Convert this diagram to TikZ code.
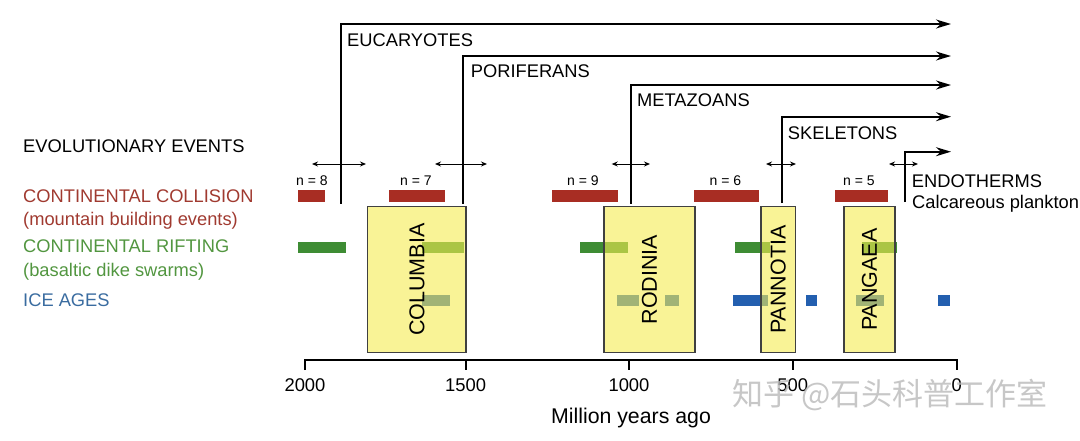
\documentclass[tikz,border=0pt]{standalone}
\usepackage{fontspec}
\setmainfont{Liberation Sans}
\newfontfamily\cjk{Noto Sans CJK SC}
\usetikzlibrary{arrows.meta}

\definecolor{collred}{RGB}{168,45,35}
\definecolor{riftgreen}{RGB}{62,140,52}
\definecolor{iceblue}{RGB}{35,95,175}
\definecolor{supyellow}{RGB}{245,235,80}
\definecolor{colltext}{RGB}{160,58,48}
\definecolor{rifttext}{RGB}{82,150,64}
\definecolor{icetext}{RGB}{58,108,160}

\begin{document}
\begin{tikzpicture}[x=1pt,y=-1pt,
  evo/.style={line width=1.8pt,-{Stealth[length=15pt,width=9pt]}},
  rangearrow/.style={line width=1pt,{Stealth[length=6pt,width=5pt]}-{Stealth[length=6pt,width=5pt]}},
  lbl/.style={inner sep=0,anchor=base west,font=\fontsize{18.3}{20}\selectfont},
  nlbl/.style={inner sep=0,anchor=base,font=\fontsize{14}{16}\selectfont},
  axlbl/.style={inner sep=0,anchor=base,font=\fontsize{18.4}{20}\selectfont},
  supbox/.style={draw=black!75,line width=1.2pt,fill=supyellow,fill opacity=0.6},
  suplbl/.style={rotate=90,inner sep=0,font=\fontsize{21.5}{24}\selectfont}]
  \useasboundingbox (0,0) rectangle (1080,440);

  %legend
  \node[lbl] (evol) at (23,152.7) {EVOLUTIONARY EVENTS};
  \node[lbl,text=colltext] (coll) at (23,202.7) {CONTINENTAL COLLISION};
  \node[lbl,text=colltext] (collsub) at (23,225.5) {(mountain building events)};
  \node[lbl,text=rifttext] (rift) at (23,252.7) {CONTINENTAL RIFTING};
  \node[lbl,text=rifttext] (riftsub) at (23,276) {(basaltic dike swarms)};
  \node[lbl,text=icetext] (ice) at (23,306) {ICE AGES};

  %collisions
  \fill[collred] (297.7,190) rectangle (325,202);
  \fill[collred] (389,190) rectangle (445,202);
  \fill[collred] (551.7,190) rectangle (617.7,202);
  \fill[collred] (694.3,190) rectangle (759,202);
  \fill[collred] (835,190) rectangle (887.7,202);
  \node[nlbl] (n8) at (312,185.5) {n = 8};
  \node[nlbl] (n7) at (416,185.5) {n = 7};
  \node[nlbl] (n9) at (583,185.5) {n = 9};
  \node[nlbl] (n6) at (725.5,185.5) {n = 6};
  \node[nlbl] (n5) at (859,185.5) {n = 5};

  %rifting
  \fill[riftgreen] (297.7,242) rectangle (346,253);
  \fill[riftgreen] (421.7,242) rectangle (464,253);
  \fill[riftgreen] (580,242) rectangle (628.3,253);
  \fill[riftgreen] (735,242) rectangle (770,253);
  \fill[riftgreen] (861.7,242) rectangle (896.7,253);

  %ice ages
  \fill[iceblue] (421.7,295) rectangle (450,306);
  \fill[iceblue] (617,295) rectangle (639,306);
  \fill[iceblue] (665,295) rectangle (679,306);
  \fill[iceblue] (733.3,295) rectangle (768.3,306);
  \fill[iceblue] (806,295) rectangle (816.7,306);
  \fill[iceblue] (856,295) rectangle (884,306);
  \fill[iceblue] (938.3,295) rectangle (950,306);

  %supercontinents
  \draw[supbox] (367.7,206.7) rectangle (466,352.7);
  \draw[supbox] (604,206.7) rectangle (695,352.7);
  \draw[supbox] (761,206.7) rectangle (795.7,352.7);
  \draw[supbox] (844,206.7) rectangle (895,352.7);
  \node[suplbl] (columbia) at (416.9,279.7) {COLUMBIA};
  \node[suplbl] (rodinia) at (649.5,279.7) {RODINIA};
  \node[suplbl] (pannotia) at (778.3,279.7) {PANNOTIA};
  \node[suplbl] (pangaea) at (869.5,279.7) {PANGAEA};

  %evolution
  \coordinate (eucbase) at (340.7,203.5);
  \coordinate (euctip) at (951,24);
  \coordinate (porbase) at (462.7,203.5);
  \coordinate (portip) at (951,56);
  \coordinate (metbase) at (630.7,203.5);
  \coordinate (mettip) at (951,85);
  \coordinate (skelbase) at (781.7,203);
  \coordinate (skeltip) at (951,116.7);
  \coordinate (endobase) at (905,202);
  \coordinate (endotip) at (951,151.7);
  \draw[evo] (eucbase) |- (euctip);
  \draw[evo] (porbase) |- (portip);
  \draw[evo] (metbase) |- (mettip);
  \draw[evo] (skelbase) |- (skeltip);
  \draw[evo] (endobase) |- (endotip);
  \node[lbl] (euc) at (347,46.7) {EUCARYOTES};
  \node[lbl] (por) at (470.7,77.3) {PORIFERANS};
  \node[lbl] (met) at (637,106.7) {METAZOANS};
  \node[lbl] (skel) at (787.7,139.3) {SKELETONS};
  \node[lbl] (endo) at (911.7,187.3) {ENDOTHERMS};
  \node[lbl] (plank) at (912,208.3) {Calcareous plankton};

  %ranges
  \coordinate (r1a) at (312,164);   \coordinate (r1b) at (366,164);
  \coordinate (r2a) at (435,164);   \coordinate (r2b) at (487,164);
  \coordinate (r3a) at (611.7,164); \coordinate (r3b) at (650,164);
  \coordinate (r4a) at (766,164);   \coordinate (r4b) at (796,164);
  \coordinate (r5a) at (889,164);   \coordinate (r5b) at (918,164);
  \draw[rangearrow] (r1a) -- (r1b);
  \draw[rangearrow] (r2a) -- (r2b);
  \draw[rangearrow] (r3a) -- (r3b);
  \draw[rangearrow] (r4a) -- (r4b);
  \draw[rangearrow] (r5a) -- (r5b);

  %axis
  \draw[line width=2pt] (305,370) -- (305,360) -- (956.7,360) -- (956.7,370);
  \draw[line width=2pt] (465.7,360) -- (465.7,370);
  \draw[line width=2pt] (629,360) -- (629,370);
  \draw[line width=2pt] (792.7,360) -- (792.7,370);
  \node[axlbl] (t2000) at (305,391.7) {2000};
  \node[axlbl] (t1500) at (465.7,391.7) {1500};
  \node[axlbl] (t1000) at (629,391.7) {1000};
  \node[axlbl] (t500) at (792.7,391.7) {500};
  \node[axlbl] (t0) at (956.7,391.7) {0};
  \node[inner sep=0,anchor=base,font=\fontsize{21.3}{24}\selectfont] (myr) at (631,423.3) {Million years ago};

  %watermark
  \node[inner sep=0,text=gray!55,text opacity=0.8,font=\cjk\fontsize{31}{34}\selectfont] (wm) at (890,395) {知乎 @石头科普工作室};

\end{tikzpicture}
\end{document}
